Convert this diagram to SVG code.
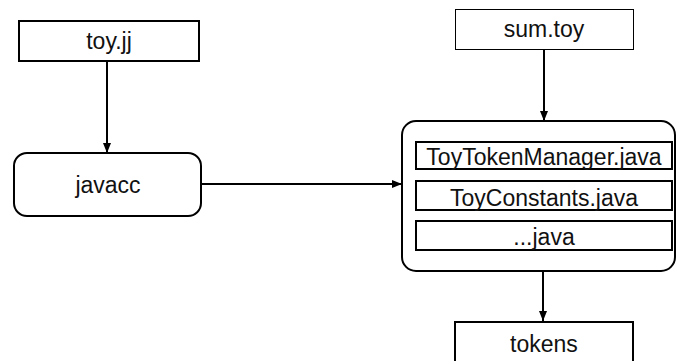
<svg xmlns="http://www.w3.org/2000/svg" width="677" height="361" viewBox="0 0 677 361">
<style>
.box{fill:#fff;stroke:#000;stroke-width:2}
.thin{fill:#fff;stroke:#000;stroke-width:1}
.lbl{font-family:"Liberation Sans",Arial,sans-serif;font-size:23px;fill:#111;text-anchor:middle}
.conn line{stroke:#000;stroke-width:2}
</style>
<defs>
<marker id="ah" markerWidth="10" markerHeight="8" refX="10" refY="4" orient="auto" markerUnits="userSpaceOnUse">
<path d="M0,0 L10,4 L0,8 Z" fill="#000"/>
</marker>
</defs>
<rect width="677" height="361" fill="#fff"/>
<g id="toy_jj">
<rect class="box" x="19" y="21" width="180" height="40"/>
<text class="lbl" x="109" y="49">toy.jj</text>
</g>
<g id="javacc">
<rect class="box" x="14" y="153" width="187" height="63" rx="13" ry="13"/>
<text class="lbl" x="108" y="193">javacc</text>
</g>
<g id="sum_toy">
<rect class="thin" x="455.5" y="9.5" width="178" height="40"/>
<text class="lbl" x="544" y="37">sum.toy</text>
</g>
<g id="generated">
<rect class="box" x="402" y="121" width="273" height="150" rx="14" ry="14"/>
<rect class="box" x="416" y="142" width="256" height="27"/>
<text class="lbl" x="544" y="165">ToyTokenManager.java</text>
<rect class="box" x="416" y="181" width="256" height="29"/>
<text class="lbl" x="544" y="206">ToyConstants.java</text>
<rect class="box" x="416" y="221" width="256" height="29"/>
<text class="lbl" x="544" y="245">...java</text>
</g>
<g id="tokens">
<rect class="box" x="455" y="322" width="178" height="45"/>
<text class="lbl" x="544" y="352">tokens</text>
</g>
<g class="conn" id="connectors">
<line x1="107" y1="61" x2="107" y2="153" marker-end="url(#ah)"/>
<line x1="201" y1="184" x2="402" y2="184" marker-end="url(#ah)"/>
<line x1="544" y1="49" x2="544" y2="121" marker-end="url(#ah)"/>
<line x1="543" y1="271" x2="543" y2="321" marker-end="url(#ah)"/>
</g>
</svg>
